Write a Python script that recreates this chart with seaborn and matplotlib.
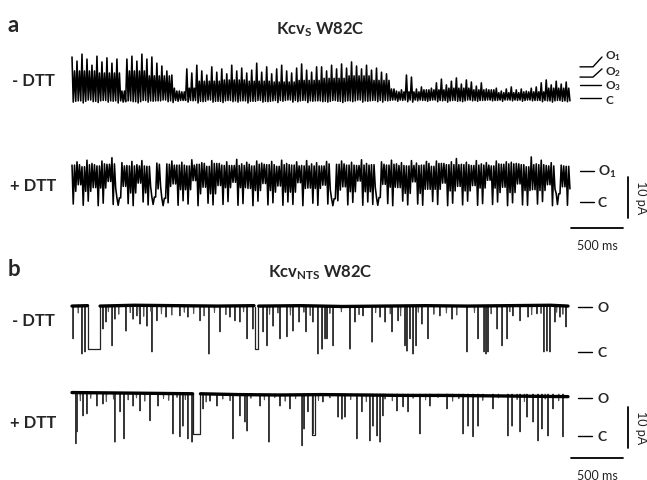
import numpy as np
import pandas as pd
import matplotlib
matplotlib.use("Agg")
import matplotlib.pyplot as plt
import seaborn as sns

# ---------------------------------------------------------------- data
COL_MS = 48      # one flicker column (ms)
BLOCK_COLS = 5   # columns per dense-band block

# panel a, "- DTT": per-column upper / lower current extremes (pA above closed level)
a_minus_high = [
    10.0, 9.0, 10.7, 9.5, 8.0, 10.2, 8.8, 9.8, 8.5, 9.5,
    1.7, 9.5, 10.2, 9.0, 10.7, 9.5, 10.0, 8.5, 7.8, 6.6,
    5.6, 1.7, 1.5, 7.1, 6.1, 8.0, 6.6, 5.6, 7.6, 6.3,
    7.1, 5.9, 8.0, 6.6, 7.3, 6.1, 6.8, 8.5, 6.3, 7.6,
    5.9, 7.1, 8.0, 6.6, 6.1, 7.3, 8.3, 6.8, 6.3, 7.6,
    7.6, 6.6, 8.0, 7.1, 8.3, 7.3, 8.8, 7.8, 7.1, 8.0,
    6.8, 7.3, 6.3, 5.9, 2.2, 1.7, 2.0, 5.6, 5.1, 2.2,
    2.7, 2.0, 2.4, 3.7, 4.6, 3.2, 4.1, 4.9, 3.4, 4.4,
    3.9, 2.9, 3.7, 2.2, 2.0, 2.4, 1.7, 2.2, 2.7, 2.0,
    2.2, 1.7, 2.4, 2.7, 3.7, 4.4, 3.2, 4.1, 3.4, 3.9]
a_minus_low = [
    -1.0, -0.7, -1.2, -0.5, -0.9, -1.1, -0.6, -1.0, -0.8, -1.2,
    -1.0, -0.7, -0.9, -1.2, -0.6, -1.0, -0.8, -0.7, -0.5, -0.9,
    -1.1, -0.8, -0.6, -1.0, -0.7, -1.2, -0.9, -0.5, -1.0, -0.8,
    -1.1, -0.6, -0.9, -1.0, -0.7, -1.2, -0.8, -0.6, -1.0, -0.9,
    -0.7, -1.1, -0.8, -0.5, -1.0, -0.9, -0.6, -1.1, -0.8, -0.7,
    -0.9, -1.0, -0.6, -0.8, -1.1, -0.7, -0.9, -0.5, -1.0, -0.8,
    -0.6, -0.9, -1.0, -0.7, -0.5, -0.8, -0.6, -0.9, -1.0, -0.7,
    -0.6, -0.8, -0.5, -0.9, -0.7, -1.0, -0.6, -0.8, -0.9, -0.5,
    -0.7, -0.8, -0.6, -0.5, -0.7, -0.6, -0.8, -0.5, -0.7, -0.6,
    -0.8, -0.5, -0.7, -0.6, -0.9, -0.7, -1.0, -0.6, -0.8, -0.9]
# dense (solid-looking) band of the flicker, one value per 5-column block
a_minus_core_top = [6.6, 6.1, 6.6, 5.4, 2.4, 4.1, 4.4, 4.1, 3.9, 4.3,
                    4.8, 5.4, 4.3, 1.5, 2.0, 2.4, 2.0, 1.3, 1.5, 2.4]
a_minus_core_bot = [-0.8, -0.7, -0.9, -0.7, -0.6, -0.8, -0.7, -0.8, -0.6, -0.7,
                    -0.8, -0.7, -0.6, -0.5, -0.6, -0.7, -0.6, -0.5, -0.6, -0.7]

# panel a, "+ DTT"
a_plus_high = [
    9.0, 9.8, 8.6, 10.2, 9.4, 8.8, 10.0, 9.2, 10.8, 1.0,
    9.6, 8.9, 9.9, 9.1, 10.1, 8.7, 1.2, 9.5, 0.9, 9.3,
    10.0, 9.0, 9.7, 8.8, 10.3, 9.2, 9.6, 8.7, 10.1, 9.4,
    9.0, 9.8, 8.9, 10.4, 9.3, 9.7, 8.8, 10.0, 9.5, 9.1,
    9.9, 8.7, 10.2, 9.4, 9.0, 9.8, 8.9, 10.1, 9.3, 9.6,
    8.8, 9.9, 0.8, 9.2, 10.0, 9.0, 9.7, 8.9, 10.3, 9.4,
    9.1, 1.1, 9.8, 9.0, 10.2, 9.3, 9.6, 8.8, 10.1, 9.5,
    9.0, 9.9, 8.7, 10.0, 9.4, 9.1, 9.8, 10.6, 9.2, 9.7,
    8.9, 10.1, 9.3, 9.6, 8.8, 10.0, 9.2, 9.8, 9.7, 9.4,
    9.1, 8.6, 11.0, 9.3, 10.2, 8.9, 9.6, 2.0, 9.0, 8.7]
a_plus_low = [
    -0.5, 4.2, -0.8, 0.2, 3.5, -0.9, -0.3, 5.0, -0.6, -0.8,
    3.8, -0.4, -0.9, 4.6, 0.0, -0.7, -0.6, 3.2, -0.9, -0.2,
    4.4, -0.8, 0.3, -0.5, 5.2, -0.9, 3.6, -0.3, -0.7, 4.0,
    -0.6, 0.1, 4.8, -0.8, -0.4, 3.3, -0.9, 0.2, 4.5, -0.7,
    -0.2, 3.9, -0.8, 0.0, -0.6, 4.7, -0.9, 3.4, -0.3, -0.8,
    4.1, -0.5, -0.9, 0.3, 3.7, -0.7, -0.1, 5.1, -0.8, 0.0,
    -0.6, -0.8, 4.3, -0.4, -0.9, 3.5, 0.2, -0.7, 4.9, -0.5,
    -0.8, 3.1, 0.1, -0.6, 4.6, -0.9, -0.3, 3.8, -0.7, 0.2,
    4.0, -0.8, -0.4, 5.3, -0.6, 0.0, 3.6, -0.9, -0.2, 4.4,
    -0.7, -0.8, 3.0, -0.5, 0.1, 4.2, -0.9, -0.6, 3.7, -0.8]
a_plus_core_top = [9.1, 9.3, 8.8, 9.2, 9.0, 9.4, 8.9, 9.2, 9.1, 8.8,
                   9.3, 9.0, 9.2, 8.9, 9.4, 9.1, 9.0, 9.3, 9.1, 8.8]
a_plus_core_bot = [2.6, 3.4, 2.2, 3.8, 3.0, 2.0, 3.5, 2.8, 2.4, 3.3,
                   2.9, 2.5, 3.6, 2.1, 3.1, 2.7, 3.4, 2.3, 2.8, 3.2]

a_minus_levels = [7.6, 5.1, 3.2, 0.0]
a_minus_level_names = ["O$_1$", "O$_2$", "O$_3$", "C"]
a_plus_levels = [7.6, 0.0]
a_plus_level_names = ["O$_1$", "C"]

# panel b, "- DTT": open-level baseline (ms, pA, segment), closures (ms, pA), long closures
b_minus_base_t = [0, 150, 270, 600, 1000, 1400, 1750,
                  1795, 2200, 2600, 3000, 3400, 3800, 4200, 4600, 4769]
b_minus_base_I = [11.2, 11.3, 11.2, 11.4, 11.3, 11.2, 11.3,
                  11.2, 11.3, 11.1, 11.2, 11.3, 11.2, 11.3, 11.4, 11.2]
b_minus_base_seg = [0, 0, 1, 1, 1, 1, 1, 2, 2, 2, 2, 2, 2, 2, 2, 2]
b_minus_spike_t = [10, 96, 125, 298, 327, 385, 413, 519, 587, 625, 654, 721, 769, 817,
                   904, 1038, 1115, 1231, 1317, 1423, 1519, 1567, 1615, 1683, 1740,
                   1837, 1875, 1933, 2000, 2067, 2125, 2183, 2250, 2317, 2365, 2404,
                   2433, 2452, 2510, 2673, 2721, 2798, 2885, 2962, 3010, 3077, 3135,
                   3202, 3221, 3250, 3279, 3308, 3365, 3423, 3538, 3654, 3798, 3904,
                   3962, 3981, 4000, 4087, 4135, 4183, 4240, 4308, 4385, 4471, 4538,
                   4567, 4596, 4644, 4692, 4750]
b_minus_spike_I = [3.2, -0.5, 0.0, 5.6, 7.3, 1.5, 8.0, 5.1, 8.0, 8.8, 6.8, 6.3, 0.0, 7.6,
                   8.5, 8.8, 8.5, 7.6, -0.5, 4.9, 8.5, 7.6, 7.3, 3.2, 5.6,
                   4.9, 1.5, 6.3, 3.2, 3.7, 5.1, 7.3, 4.9, 7.3, -0.5, 0.7,
                   3.2, 3.2, 1.5, 0.7, 7.3, 8.8, 2.4, 8.5, 7.3, 4.9, 7.6,
                   1.5, 0.2, 3.2, -0.5, 1.5, 6.8, 3.2, 8.8, 8.0, 0.0, 3.2,
                   0.0, -0.5, 0.0, 5.6, 1.5, 3.2, 8.8, 7.6, 8.5, 9.3, 0.0,
                   0.2, 0.0, 7.3, 8.5, 6.1]
b_minus_small_t = [60, 630, 350, 450, 560, 690, 760, 860, 960, 1080,
                   1170, 1270, 1370, 1480, 1650, 1900, 1980, 2100, 2230, 2290,
                   2480, 2590, 2760, 2920, 3060, 3160, 3330, 3480, 3600, 3700,
                   3870, 4030, 4210, 4420, 4510, 4660, 4720]
b_minus_small_I = [9.5, 8.9, 9.8, 9.2, 9.6, 8.7, 9.9, 9.3, 9.0, 9.7,
                   9.4, 8.8, 9.6, 9.1, 9.8, 9.2, 9.5, 9.0, 9.7, 8.9,
                   9.4, 9.8, 9.1, 9.6, 9.3, 8.8, 9.7, 9.2, 9.5, 9.0,
                   9.6, 9.3, 9.8, 9.1, 9.4, 9.7, 9.2]
b_minus_dwell_start = [154, 1760]
b_minus_dwell_end = [269, 1790]
b_minus_dwell_I = [0.7, 0.7]

# panel b, "+ DTT"
b_plus_base_t = [0, 400, 800, 1160, 1235, 1600, 2000, 2400, 2800, 3200, 3600, 4000, 4400, 4769]
b_plus_base_I = [10.6, 10.5, 10.4, 10.3, 10.3, 10.1, 10.0, 10.1, 10.0, 9.9, 9.9, 9.8, 9.7, 9.6]
b_plus_base_seg = [0, 0, 0, 0, 1, 1, 1, 1, 1, 1, 1, 1, 1, 1]
b_plus_spike_t = [38, 48, 106, 144, 240, 298, 413, 462, 500, 587, 654, 750, 827, 971,
                  1038, 1067, 1115, 1154, 1260, 1327, 1394, 1548, 1615, 1663, 1683,
                  1808, 1894, 2000, 2096, 2212, 2231, 2269, 2317, 2413, 2558, 2596,
                  2625, 2740, 2788, 2865, 2894, 2933, 2962, 2990, 3125, 3183, 3231,
                  3346, 3442, 3606, 3760, 3808, 3856, 3904, 4048, 4192, 4231, 4308,
                  4375, 4433, 4481, 4519, 4577, 4625, 4721]
b_plus_spike_I = [-1.9, 1.0, 4.9, 5.4, 7.3, 7.8, -1.5, 5.9, -0.7, 7.3, 6.1, 3.7, 7.3, 0.5,
                  -0.2, 2.4, -0.7, -1.5, 6.6, 8.5, 7.3, -0.7, 4.9, 3.4, 1.2,
                  7.3, -1.5, 7.3, 6.6, -2.4, 1.7, 5.9, 0.5, 8.3, 4.6, 4.1,
                  4.6, -0.7, 5.9, -1.2, 2.4, 0.0, -1.5, 4.9, 6.1, 7.1, 5.9,
                  0.5, 7.3, 6.6, 0.5, 2.4, -0.2, 2.4, 6.6, 0.0, 2.4, 1.0,
                  4.6, 3.4, -1.2, 1.7, 0.0, 6.6, -0.2]
b_plus_small_t = [80, 180, 330, 400, 540, 620, 700, 880, 930, 1010,
                  1090, 1290, 1450, 1520, 1720, 1850, 1950, 2050, 2150, 2370,
                  2480, 2680, 2830, 3010, 3080, 3280, 3400, 3520, 3660, 3720,
                  3950, 4100, 4280, 4350, 4550, 4680]
b_plus_small_I = [8.6, 9.2, 8.4, 9.0, 8.8, 9.3, 8.5, 9.1, 8.7, 9.4,
                  8.9, 8.3, 9.0, 8.6, 9.2, 8.8, 9.4, 8.5, 9.1, 8.7,
                  9.3, 8.9, 8.4, 9.0, 8.6, 9.2, 8.8, 9.4, 8.5, 9.1,
                  8.7, 9.3, 8.9, 8.4, 9.0, 8.6]
b_plus_dwell_start = [1163, 2308]
b_plus_dwell_end = [1231, 2337]
b_plus_dwell_I = [0.5, 0.3]

b_levels_minus = [11.0, 0.0]
b_levels_plus = [9.3, 0.0]
b_level_names = ["O", "C"]

scale_ms = 500
scale_pA = 10

# ---------------------------------------------------------------- layout
W, H = 647, 481
MS_PER_PX = 500 / 52
PX_PER_PA = 4.1
X0 = 72  # trace start (px)


def fx(px):
    return (px - X0) * MS_PER_PX


def fy(py):
    return (H - py) / PX_PER_PA


sns.set_theme(style="white")
plt.rcParams["font.family"] = ["Lato", "DejaVu Sans"]
plt.rcParams["mathtext.fontset"] = "custom"
plt.rcParams["mathtext.rm"] = "Lato:bold"
plt.rcParams["mathtext.bf"] = "Lato:bold"
plt.rcParams["mathtext.it"] = "Lato:bold"
plt.rcParams["mathtext.default"] = "bf"

fig = plt.figure(figsize=(W / 100, H / 100), dpi=100)
ax = fig.add_axes([0, 0, 1, 1])

off_a_minus = fy(99)
off_a_plus = fy(203)
off_b_minus = fy(353)
off_b_plus = fy(437)


def flicker(high, low, core_top, core_bot, offset):
    t, y = [], []
    for i, (h, l) in enumerate(zip(high, low)):
        b = i // BLOCK_COLS
        top = min(core_top[b], h)
        bot = min(max(core_bot[b], l), top)
        t0 = i * COL_MS
        t += [t0, t0 + COL_MS / 4, t0 + COL_MS / 2, t0 + 3 * COL_MS / 4]
        y += [v + offset for v in (h, l, top, bot)]
    df = pd.DataFrame({"t": t, "I": y})
    sns.lineplot(data=df, x="t", y="I", sort=False, estimator=None,
                 color="black", lw=1.15, ax=ax)


def spike_df(sp_t, sp_I, open_I, offset):
    rows = []
    for k, (ts, Is) in enumerate(zip(sp_t, sp_I)):
        rows += [(ts - 4, open_I + offset, k), (ts, Is + offset, k),
                 (ts + 4, open_I + offset, k)]
    return pd.DataFrame(rows, columns=["t", "I", "u"])


def spiky(base_t, base_I, base_seg, sp_t, sp_I, sm_t, sm_I, d0, d1, dI, open_I, offset):
    sns.lineplot(data=spike_df(sp_t, sp_I, open_I, offset), x="t", y="I", units="u",
                 estimator=None, sort=False, color="#333333", lw=0.7, ax=ax)
    sns.lineplot(data=spike_df(sm_t, sm_I, open_I, offset), x="t", y="I", units="u",
                 estimator=None, sort=False, color="#555555", lw=0.7, ax=ax)
    rows = []
    for k, (a, b, lv) in enumerate(zip(d0, d1, dI)):
        rows += [(a, open_I + offset, k), (a, lv + offset, k),
                 (b, lv + offset, k), (b, open_I + offset, k)]
    dw = pd.DataFrame(rows, columns=["t", "I", "u"])
    sns.lineplot(data=dw, x="t", y="I", units="u", estimator=None, sort=False,
                 color="#222222", lw=0.9, ax=ax)
    base = pd.DataFrame({"t": base_t, "I": np.array(base_I) + offset, "u": base_seg})
    sns.lineplot(data=base, x="t", y="I", units="u", estimator=None, sort=False,
                 color="black", lw=2.4, ax=ax)


flicker(a_minus_high, a_minus_low, a_minus_core_top, a_minus_core_bot, off_a_minus)
flicker(a_plus_high, a_plus_low, a_plus_core_top, a_plus_core_bot, off_a_plus)
spiky(b_minus_base_t, b_minus_base_I, b_minus_base_seg, b_minus_spike_t, b_minus_spike_I,
      b_minus_small_t, b_minus_small_I,
      b_minus_dwell_start, b_minus_dwell_end, b_minus_dwell_I, 11.0, off_b_minus)
spiky(b_plus_base_t, b_plus_base_I, b_plus_base_seg, b_plus_spike_t, b_plus_spike_I,
      b_plus_small_t, b_plus_small_I,
      b_plus_dwell_start, b_plus_dwell_end, b_plus_dwell_I, 10.2, off_b_plus)

ax.set_xlim(fx(0), fx(W))
ax.set_ylim(fy(H), fy(0))
ax.axis("off")
if ax.get_legend():
    ax.get_legend().remove()

LW = 1.0


def txt(px, py, s, **kw):
    fig.text(px / W, 1 - py / H, s, **kw)


# level markers panel a "- DTT"
kinks = [2.4, 2.0, 0, 0]
for lv, kk, name, ly in zip(a_minus_levels, kinks, a_minus_level_names, [56.5, 72, 86.5, 100.5]):
    y = lv + off_a_minus
    if kk:
        ax.plot([fx(580), fx(593), fx(602)], [y, y, y + kk], color="black", lw=LW)
    else:
        ax.plot([fx(580), fx(601)], [y, y], color="black", lw=LW)
    txt(605, ly, name, fontsize=8.5, fontweight="bold", va="center", ha="left")

for lv, name in zip(a_plus_levels, a_plus_level_names):
    y = lv + off_a_plus
    ax.plot([fx(580), fx(594)], [y, y], color="black", lw=LW)
    txt(598, (H - y * PX_PER_PA), name, fontsize=10, fontweight="bold", va="center", ha="left")

for lvls, off in [(b_levels_minus, off_b_minus), (b_levels_plus, off_b_plus)]:
    for lv, name in zip(lvls, b_level_names):
        y = lv + off
        ax.plot([fx(578), fx(592)], [y, y], color="black", lw=LW)
        txt(597, (H - y * PX_PER_PA), name, fontsize=10, fontweight="bold", va="center", ha="left")

# scale bars
for vb_bottom, hb_y, lab_y, pa_y in [(219, 229, 246, 198), (449, 459, 476, 428)]:
    ax.plot([fx(628), fx(628)], [fy(vb_bottom), fy(vb_bottom) + scale_pA], color="black", lw=1.3)
    ax.plot([fx(571), fx(571) + scale_ms], [fy(hb_y), fy(hb_y)], color="black", lw=1.3)
    txt(597, lab_y, f"{scale_ms} ms", fontsize=9, color="#222222", ha="center", va="center",
        fontweight="normal")
    txt(641, pa_y, f"{scale_pA} pA", fontsize=9, color="#222222", ha="center", va="center",
        rotation=270, fontweight="normal")

# texts
txt(8, 25, "a", fontsize=16, fontweight="bold", va="center", ha="left")
txt(8, 270, "b", fontsize=16, fontweight="bold", va="center", ha="left")
txt(320, 30, "Kcv$_\\mathbf{S}$ W82C", fontsize=12, fontweight="bold", ha="center", va="center")
txt(320, 273, "Kcv$_\\mathbf{NTS}$ W82C", fontsize=12, fontweight="bold", ha="center", va="center")
txt(12, 81, "- DTT", fontsize=12, fontweight="bold", va="center", ha="left")
txt(10, 186, "+ DTT", fontsize=12, fontweight="bold", va="center", ha="left")
txt(12, 321, "- DTT", fontsize=12, fontweight="bold", va="center", ha="left")
txt(10, 423, "+ DTT", fontsize=12, fontweight="bold", va="center", ha="left")

fig.savefig("out.png", dpi=100, facecolor="white")
